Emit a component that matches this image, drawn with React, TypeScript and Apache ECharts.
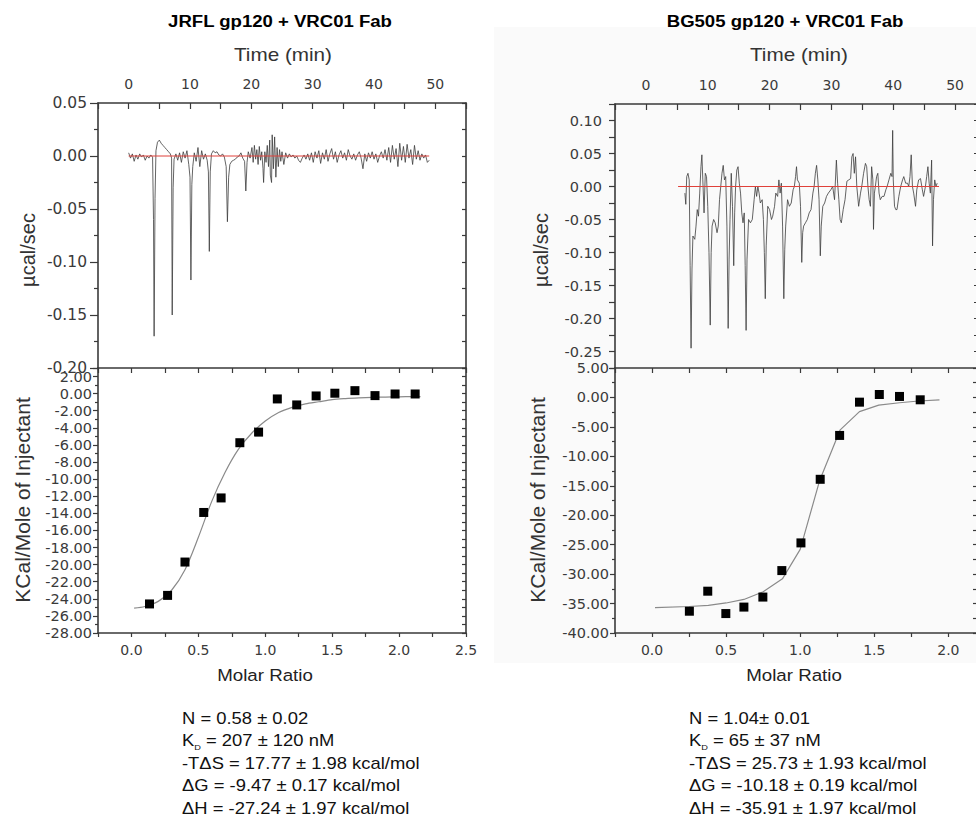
import React, { useEffect, useRef } from 'react';
import * as echarts from 'echarts';

// ---------- DATA ----------
// Raw ITC thermogram, JRFL gp120 + VRC01 Fab : [time (min), µcal/sec]
const jrflTrace: number[][] = [
  [0.0, 0.003], [0.3, -0.002], [0.6, 0.002], [0.9, -0.005], [1.2, 0.001], [1.5, -0.003], [1.8, 0.002],
  [2.1, -0.001], [2.4, 0.001], [2.7, -0.004], [3.0, 0.0], [3.3, -0.002], [3.6, 0.001], [3.9, -0.001],
  [4.05, -0.06], [4.15, -0.17], [4.3, -0.04], [4.45, 0.005], [4.7, 0.013], [5.0, 0.015], [5.3, 0.012],
  [5.6, 0.01], [5.9, 0.008], [6.2, 0.006], [6.5, 0.004], [6.8, 0.002], [7.0, -0.002], [7.1, -0.15],
  [7.25, -0.03], [7.4, -0.003], [7.7, 0.002], [8.0, -0.004], [8.3, 0.003], [8.6, -0.006], [8.9, 0.004],
  [9.2, -0.002], [9.5, 0.005], [9.8, -0.008], [10.0, -0.02], [10.15, -0.117], [10.3, -0.027], [10.45, -0.01],
  [10.7, 0.003], [11.0, -0.005], [11.3, 0.008], [11.6, -0.01], [11.9, 0.005], [12.2, -0.003], [12.5, 0.002],
  [12.8, -0.004], [13.0, -0.015], [13.15, -0.09], [13.3, -0.015], [13.5, 0.002], [13.8, 0.005], [14.1, 0.003],
  [14.4, 0.004], [14.7, 0.001], [15.0, 0.0], [15.3, 0.002], [15.6, -0.001], [15.9, -0.01], [16.1, -0.062],
  [16.3, -0.02], [16.5, -0.008], [16.8, -0.005], [17.1, -0.004], [17.4, -0.003], [17.7, -0.001], [18.0, 0.0],
  [18.3, 0.003], [18.6, -0.002], [18.9, -0.005], [19.1, -0.033], [19.3, -0.006], [19.5, 0.004], [19.8, -0.002],
  [20.1, 0.008], [20.3, -0.006], [20.5, 0.01], [20.7, -0.003], [20.9, 0.006], [21.1, -0.008], [21.3, 0.009],
  [21.5, -0.004], [21.7, 0.004], [21.9, -0.012], [22.0, -0.025], [22.2, 0.004], [22.4, -0.006], [22.6, 0.01],
  [22.8, -0.01], [23.0, 0.015], [23.1, -0.018], [23.3, -0.025], [23.4, 0.02], [23.6, -0.012], [23.8, 0.018],
  [24.0, -0.02], [24.2, 0.008], [24.4, -0.01], [24.6, 0.006], [24.8, -0.005], [25.0, 0.004], [25.3, -0.008],
  [25.6, 0.003], [25.9, -0.002], [26.2, 0.002], [26.5, -0.001], [26.8, 0.001], [27.1, -0.002], [27.4, 0.0],
  [27.7, -0.004], [28.0, -0.006], [28.3, -0.002], [28.6, 0.001], [28.9, -0.003], [29.2, 0.002], [29.5, -0.004],
  [29.8, 0.003], [30.1, -0.006], [30.4, 0.004], [30.7, -0.002], [31.0, 0.005], [31.3, -0.007], [31.6, 0.003],
  [31.9, -0.003], [32.2, 0.006], [32.5, -0.005], [32.8, 0.002], [33.1, 0.007], [33.4, -0.003], [33.7, 0.004],
  [34.0, -0.006], [34.3, 0.001], [34.6, 0.005], [34.9, -0.002], [35.2, 0.003], [35.5, -0.004], [35.8, 0.006],
  [36.1, 0.0], [36.4, -0.003], [36.7, 0.002], [37.0, -0.004], [37.3, 0.001], [37.6, 0.004], [37.9, -0.002],
  [38.2, -0.012], [38.5, 0.002], [38.8, -0.005], [39.1, 0.003], [39.4, -0.002], [39.7, 0.004], [40.0, -0.003],
  [40.3, 0.002], [40.6, -0.006], [40.9, 0.0], [41.2, 0.004], [41.5, -0.002], [41.8, 0.006], [42.1, -0.004],
  [42.4, 0.008], [42.7, -0.006], [43.0, 0.01], [43.3, -0.003], [43.6, 0.007], [43.9, -0.01], [44.2, 0.012],
  [44.5, -0.004], [44.8, 0.009], [45.1, -0.006], [45.4, 0.011], [45.7, -0.002], [46.0, 0.006], [46.3, -0.008],
  [46.6, 0.01], [46.9, -0.003], [47.2, 0.005], [47.5, -0.004], [47.8, 0.002], [48.1, -0.002], [48.4, 0.001],
  [48.7, -0.006], [49.0, -0.004],
];
const jrflBaseline: number[][] = [[0, 0], [49, 0]];

// Raw ITC thermogram, BG505 gp120 + VRC01 Fab : [time (min), µcal/sec]
const bgTrace: number[][] = [
  [6.3, -0.01], [6.45, -0.027], [6.6, 0.015], [6.8, 0.02], [7.0, 0.01], [7.15, -0.12], [7.3, -0.245],
  [7.45, -0.125], [7.6, -0.075], [7.9, -0.08], [8.1, -0.06], [8.3, -0.035], [8.5, -0.045], [8.7, -0.01],
  [8.9, 0.03], [9.05, 0.048], [9.2, 0.01], [9.4, -0.04], [9.6, 0.02], [9.8, 0.015], [10.0, -0.03],
  [10.2, -0.1], [10.4, -0.21], [10.55, -0.1], [10.7, -0.06], [10.95, -0.05], [11.2, -0.055], [11.5, -0.07],
  [11.7, -0.06], [11.9, -0.02], [12.1, 0.0], [12.3, 0.02], [12.5, 0.032], [12.7, 0.01], [12.9, 0.015],
  [13.1, -0.06], [13.3, -0.215], [13.45, -0.11], [13.6, -0.05], [13.8, 0.02], [14.0, -0.03], [14.2, -0.12],
  [14.35, -0.04], [14.5, 0.0], [14.7, 0.025], [14.9, 0.03], [15.1, 0.005], [15.3, -0.01], [15.5, -0.04],
  [15.7, -0.055], [15.9, -0.04], [16.05, -0.12], [16.2, -0.218], [16.35, -0.11], [16.6, -0.05], [16.9, -0.055],
  [17.2, -0.05], [17.5, -0.02], [17.7, 0.0], [17.9, -0.015], [18.1, 0.0], [18.3, -0.01], [18.5, -0.025],
  [18.8, -0.02], [19.0, -0.05], [19.15, -0.1], [19.3, -0.17], [19.45, -0.09], [19.7, -0.03], [20.0, -0.035],
  [20.3, -0.05], [20.5, -0.045], [20.8, -0.03], [21.0, -0.01], [21.3, -0.015], [21.5, 0.01], [21.7, -0.01],
  [21.9, 0.005], [22.1, -0.06], [22.3, -0.17], [22.45, -0.095], [22.6, -0.06], [22.9, -0.02], [23.2, -0.03],
  [23.5, -0.025], [23.8, -0.005], [24.0, 0.0], [24.2, 0.015], [24.35, 0.03], [24.5, 0.01], [24.8, 0.005],
  [25.0, -0.03], [25.2, -0.115], [25.35, -0.07], [25.5, -0.06], [25.8, -0.055], [26.1, -0.05], [26.4, -0.04],
  [26.7, -0.035], [27.0, -0.01], [27.2, 0.0], [27.4, 0.02], [27.6, 0.032], [27.8, 0.01], [28.0, -0.02],
  [28.2, -0.105], [28.35, -0.06], [28.6, -0.03], [28.9, -0.025], [29.2, -0.015], [29.5, -0.01], [29.9, -0.005],
  [30.2, 0.0], [30.5, -0.02], [30.8, 0.04], [31.0, 0.005], [31.2, -0.02], [31.4, -0.05], [31.6, -0.055],
  [31.9, -0.035], [32.2, -0.02], [32.5, 0.008], [32.8, 0.01], [33.1, 0.012], [33.3, 0.045], [33.5, 0.05],
  [33.7, 0.02], [33.9, 0.045], [34.1, 0.0], [34.4, -0.03], [34.7, -0.01], [34.9, 0.0], [35.2, 0.02],
  [35.5, 0.035], [35.7, 0.03], [35.9, 0.0], [36.1, -0.02], [36.3, -0.03], [36.5, 0.03], [36.7, 0.01],
  [36.8, -0.065], [36.95, -0.01], [37.1, 0.0], [37.3, 0.015], [37.5, 0.02], [37.7, -0.01], [37.9, -0.02],
  [38.2, -0.015], [38.5, -0.015], [38.8, -0.005], [39.0, 0.0], [39.3, 0.01], [39.6, 0.02], [39.8, 0.015],
  [39.9, 0.085], [40.0, 0.01], [40.2, -0.03], [40.4, -0.035], [40.6, -0.035], [40.9, -0.015], [41.2, 0.0],
  [41.5, 0.01], [41.7, 0.015], [42.0, 0.005], [42.3, 0.005], [42.5, 0.0], [42.7, 0.015], [42.9, 0.048],
  [43.1, 0.0], [43.3, -0.01], [43.6, -0.03], [43.8, -0.005], [44.1, 0.01], [44.4, 0.012], [44.7, -0.005],
  [44.9, -0.015], [45.2, 0.0], [45.4, 0.015], [45.6, 0.03], [45.8, 0.005], [46.0, -0.01], [46.2, 0.04],
  [46.35, -0.09], [46.5, -0.02], [46.7, 0.01], [46.9, 0.0], [47.1, 0.005],
];
const bgBaseline: number[][] = [[5.2, 0], [47.4, 0]];

// Integrated heats (squares)
const jrflRatio = [0.135, 0.27, 0.4, 0.54, 0.67, 0.81, 0.95, 1.09, 1.235, 1.38, 1.52, 1.67, 1.82, 1.97, 2.12];
const jrflHeat = [-24.6, -23.6, -19.7, -13.9, -12.2, -5.74, -4.5, -0.62, -1.32, -0.27, 0.05, 0.35, -0.23, -0.04, -0.04];
const bgRatio = [0.252, 0.376, 0.498, 0.62, 0.748, 0.876, 1.005, 1.135, 1.266, 1.4, 1.534, 1.67, 1.81];
const bgHeat = [-36.3, -32.9, -36.7, -35.6, -33.9, -29.4, -24.7, -13.9, -6.45, -0.8, 0.5, 0.17, -0.4];

// Fitted binding curves
const jrflFitRatio = [0.02, 0.1, 0.2, 0.3, 0.4, 0.5, 0.6, 0.7, 0.8, 0.9, 1.0, 1.1, 1.2, 1.3, 1.4, 1.5, 1.6, 1.7, 1.8, 1.9, 2.0, 2.1, 2.16];
const jrflFitHeat = [-25.1, -24.9, -24.3, -23.0, -20.6, -16.8, -12.6, -9.2, -6.5, -4.6, -3.2, -2.2, -1.6, -1.2, -0.95, -0.7, -0.58, -0.5, -0.44, -0.4, -0.37, -0.35, -0.34];
const bgFitRatio = [0.02, 0.25, 0.38, 0.5, 0.62, 0.75, 0.88, 1.0, 1.13, 1.27, 1.4, 1.53, 1.67, 1.8, 1.94];
const bgFitHeat = [-35.7, -35.5, -35.3, -34.9, -34.3, -33.0, -30.8, -25.8, -14.2, -5.5, -2.4, -1.3, -0.9, -0.6, -0.4];

// Tick labels
const leftTimeLabels = [0, 10, 20, 30, 40, 50];
const rightTimeLabels = [0, 10, 20, 30, 40, 50];
const leftMolarLabels = [0, 0.5, 1.0, 1.5, 2.0, 2.5];
const rightMolarLabels = [0, 0.5, 1.0, 1.5, 2.0];
const leftPowerLabels = [-0.2, -0.15, -0.1, -0.05, 0, 0.05];
const rightPowerLabels = [-0.25, -0.2, -0.15, -0.1, -0.05, 0, 0.05, 0.1];
const leftHeatLabels = [-28, -26, -24, -22, -20, -18, -16, -14, -12, -10, -8, -6, -4, -2, 0, 2];
const rightHeatLabels = [-40, -35, -30, -25, -20, -15, -10, -5, 0, 5];

// Texts
const titles = ['JRFL gp120 + VRC01 Fab', 'BG505 gp120 + VRC01 Fab'];
const leftStats = ['N = 0.58 ± 0.02', ' = 207 ± 120 nM', '-TΔS = 17.77 ± 1.98 kcal/mol', 'ΔG = -9.47 ± 0.17 kcal/mol', 'ΔH = -27.24 ± 1.97 kcal/mol'];
const rightStats = ['N = 1.04± 0.01', ' = 65 ± 37 nM', '-TΔS = 25.73 ± 1.93 kcal/mol', 'ΔG = -10.18 ± 0.19 kcal/mol', 'ΔH = -35.91 ± 1.97 kcal/mol'];

// ---------- STYLE ----------
const AX = '#3a3a3a';
const LBL = '#3a3a3a';
const TICKFONT = 'DejaVu Sans';
const SANS = '"Liberation Sans", Arial, sans-serif';

const lab = (labels: number[], dec: number) => (v: number) =>
  labels.some((l) => Math.abs(l - v) < 1e-7) ? (Math.abs(v) < 1e-9 ? 0 : v).toFixed(dec) : '';

const tickLine = { color: AX, width: 1.2 };
const base = (o: any) => ({
  type: 'value',
  splitLine: { show: false },
  axisLine: { show: true, onZero: false, lineStyle: { color: AX, width: 1.6 } },
  ...o,
});
const labStyle = (o: any) => ({ color: LBL, fontFamily: TICKFONT, ...o });

const text = (x: number, y: number, s: string, size: number, o: any = {}) => ({
  type: 'text',
  x,
  y,
  scaleX: o.scaleX ?? 1,
  rotation: o.rotation ?? 0,
  style: {
    text: s,
    fontSize: size,
    fontFamily: SANS,
    fontWeight: o.bold ? 'bold' : 'normal',
    fill: o.fill ?? '#111',
    align: o.align ?? 'center',
    textAlign: o.align ?? 'center',
    verticalAlign: 'middle',
    textVerticalAlign: 'middle',
  },
});

const statY = [718, 740.5, 763, 785.5, 808];
const statsBlock = (x0: number, lines: string[]) =>
  lines.map((s, i) => {
    if (i === 1) {
      return {
        type: 'text',
        x: x0,
        y: statY[i],
        scaleX: 1.15,
        style: {
          text: '{k|K}{d|D}{r|' + s + '}',
          align: 'left',
          textAlign: 'left',
          verticalAlign: 'middle',
          textVerticalAlign: 'middle',
          rich: {
            k: { fontSize: 16, fontFamily: SANS, lineHeight: 22, fill: '#111', color: '#111' },
            d: { fontSize: 8, fontFamily: SANS, lineHeight: 8, verticalAlign: 'bottom', fill: '#111', color: '#111' },
            r: { fontSize: 16, fontFamily: SANS, lineHeight: 22, fill: '#111', color: '#111' },
          },
        },
      };
    }
    return text(x0, statY[i], s, 16, { align: 'left', scaleX: 1.15 });
  });

const option: any = {
  animation: false,
  backgroundColor: '#ffffff',
  grid: [
    { left: 98, top: 103, width: 368, height: 265, outerBoundsMode: 'none' },
    { left: 98, top: 368, width: 368, height: 265, outerBoundsMode: 'none' },
    { left: 615, top: 104, width: 363, height: 264, outerBoundsMode: 'none' },
    { left: 615, top: 368, width: 363, height: 265, outerBoundsMode: 'none' },
  ],
  xAxis: [
    base({
      gridIndex: 0, position: 'top', min: -5, max: 55, interval: 5,
      axisTick: { inside: true, length: 6, lineStyle: tickLine },
      axisLabel: labStyle({ formatter: lab(leftTimeLabels, 0), margin: 12, fontSize: 14 }),
    }),
    base({
      gridIndex: 1, position: 'bottom', min: -0.25, max: 2.5, interval: 0.25,
      axisTick: { inside: false, length: 4, lineStyle: tickLine },
      axisLabel: labStyle({ formatter: lab(leftMolarLabels, 1), margin: 10, fontSize: 14 }),
    }),
    base({
      gridIndex: 1, position: 'top', min: -0.25, max: 2.5, interval: 0.25,
      axisTick: { inside: true, length: 5, lineStyle: tickLine },
      axisLabel: { show: false },
    }),
    base({
      gridIndex: 2, position: 'top', min: -5, max: 53.7, interval: 5,
      axisTick: { inside: true, length: 6, lineStyle: tickLine },
      axisLabel: labStyle({ formatter: lab(rightTimeLabels, 0), margin: 12, fontSize: 14 }),
    }),
    base({
      gridIndex: 3, position: 'bottom', min: -0.25, max: 2.2, interval: 0.25,
      axisTick: { inside: false, length: 4, lineStyle: tickLine },
      axisLabel: labStyle({ formatter: lab(rightMolarLabels, 1), margin: 10, fontSize: 14 }),
    }),
    base({
      gridIndex: 3, position: 'top', min: -0.25, max: 2.2, interval: 0.25,
      axisTick: { inside: true, length: 5, lineStyle: tickLine },
      axisLabel: { show: false },
    }),
  ],
  yAxis: [
    base({
      gridIndex: 0, position: 'left', min: -0.2, max: 0.05, interval: 0.05,
      axisTick: { inside: false, length: 8, lineStyle: tickLine },
      minorTick: { show: true, splitNumber: 2, length: 4, lineStyle: tickLine },
      axisLabel: labStyle({ formatter: lab(leftPowerLabels, 2), margin: 11, fontSize: 15.5 }),
    }),
    base({
      gridIndex: 0, position: 'right', min: -0.2, max: 0.05, interval: 0.025,
      axisTick: { inside: true, length: 4, lineStyle: tickLine },
      axisLabel: { show: false },
    }),
    base({
      gridIndex: 1, position: 'left', min: -28, max: 3, interval: 2,
      axisTick: { inside: false, length: 5, lineStyle: tickLine },
      minorTick: { show: true, splitNumber: 2, length: 3, lineStyle: tickLine },
      axisLabel: labStyle({ formatter: lab(leftHeatLabels, 2), margin: 6, fontSize: 14.5 }),
    }),
    base({
      gridIndex: 1, position: 'right', min: -28, max: 3, interval: 1,
      axisTick: { inside: true, length: 4, lineStyle: tickLine },
      axisLabel: { show: false },
    }),
    base({
      gridIndex: 2, position: 'left', min: -0.275, max: 0.125, interval: 0.025,
      axisTick: { inside: false, length: 6, lineStyle: tickLine },
      axisLabel: labStyle({ formatter: lab(rightPowerLabels, 2), margin: 13, fontSize: 14.5 }),
    }),
    base({
      gridIndex: 2, position: 'right', min: -0.275, max: 0.125, interval: 0.025,
      axisTick: { inside: true, length: 4, lineStyle: tickLine },
      axisLabel: { show: false },
    }),
    base({
      gridIndex: 3, position: 'left', min: -40, max: 5, interval: 5,
      axisTick: { inside: false, length: 5, lineStyle: tickLine },
      minorTick: { show: true, splitNumber: 2, length: 3, lineStyle: tickLine },
      axisLabel: labStyle({ formatter: lab(rightHeatLabels, 2), margin: 6, fontSize: 14.5 }),
    }),
    base({
      gridIndex: 3, position: 'right', min: -40, max: 5, interval: 2.5,
      axisTick: { inside: true, length: 5, lineStyle: tickLine },
      axisLabel: { show: false },
    }),
  ],
  series: [
    {
      type: 'line', xAxisIndex: 0, yAxisIndex: 0, data: jrflTrace, showSymbol: false, symbol: 'none',
      lineStyle: { color: '#3c3c3c', width: 0.8 }, z: 2,
    },
    {
      type: 'line', xAxisIndex: 0, yAxisIndex: 0, data: jrflBaseline, showSymbol: false, symbol: 'none',
      lineStyle: { color: '#e0413a', width: 1 }, z: 3,
    },
    {
      type: 'line', xAxisIndex: 1, yAxisIndex: 2, data: jrflFitRatio.map((r, i) => [r, jrflFitHeat[i]]),
      showSymbol: false, symbol: 'none', smooth: 0.3, lineStyle: { color: '#8a8a8a', width: 1.2 }, z: 2,
    },
    {
      type: 'scatter', xAxisIndex: 1, yAxisIndex: 2, data: jrflRatio.map((r, i) => [r, jrflHeat[i]]),
      symbol: 'rect', symbolSize: 9, itemStyle: { color: '#000', opacity: 1 }, z: 3,
    },
    {
      type: 'line', xAxisIndex: 3, yAxisIndex: 4, data: bgTrace, showSymbol: false, symbol: 'none',
      lineStyle: { color: '#3c3c3c', width: 0.8 }, z: 2,
    },
    {
      type: 'line', xAxisIndex: 3, yAxisIndex: 4, data: bgBaseline, showSymbol: false, symbol: 'none',
      lineStyle: { color: '#e0413a', width: 1 }, z: 3,
    },
    {
      type: 'line', xAxisIndex: 4, yAxisIndex: 6, data: bgFitRatio.map((r, i) => [r, bgFitHeat[i]]),
      showSymbol: false, symbol: 'none', lineStyle: { color: '#8a8a8a', width: 1.2 }, z: 2,
    },
    {
      type: 'scatter', xAxisIndex: 4, yAxisIndex: 6, data: bgRatio.map((r, i) => [r, bgHeat[i]]),
      symbol: 'rect', symbolSize: 9, itemStyle: { color: '#000', opacity: 1 }, z: 3,
    },
  ],
  graphic: [
    {
      type: 'rect', z: -10, silent: true,
      shape: { x: 494, y: 27, width: 482, height: 636 },
      style: { fill: '#fafafa' },
    },
    text(280, 21, titles[0], 16, { bold: true, scaleX: 1.16, fill: '#000' }),
    text(785, 21, titles[1], 16, { bold: true, scaleX: 1.16, fill: '#000' }),
    text(283, 55, 'Time (min)', 18, { scaleX: 1.15, fill: '#333' }),
    text(799, 55, 'Time (min)', 18, { scaleX: 1.15, fill: '#333' }),
    text(265, 675, 'Molar Ratio', 17, { scaleX: 1.1, fill: '#222' }),
    text(794, 675, 'Molar Ratio', 17, { scaleX: 1.1, fill: '#222' }),
    text(28, 250, 'µcal/sec', 20, { rotation: Math.PI / 2, fill: '#333' }),
    text(541, 250, 'µcal/sec', 20, { rotation: Math.PI / 2, fill: '#333' }),
    text(22, 500, 'KCal/Mole of Injectant', 21, { rotation: Math.PI / 2, fill: '#333' }),
    text(537, 500, 'KCal/Mole of Injectant', 21, { rotation: Math.PI / 2, fill: '#333' }),
    ...statsBlock(182, leftStats),
    ...statsBlock(689, rightStats),
  ],
};

export default function App() {
  const ref = useRef<HTMLDivElement>(null);
  useEffect(() => {
    if (!ref.current) return;
    const chart = echarts.init(ref.current, undefined, { renderer: 'svg' });
    chart.setOption(option);
    return () => chart.dispose();
  }, []);
  return (
    <div
      ref={ref}
      style={{ position: 'absolute', left: 0, top: 0, width: 976, height: 817, background: '#fff' }}
    />
  );
}
